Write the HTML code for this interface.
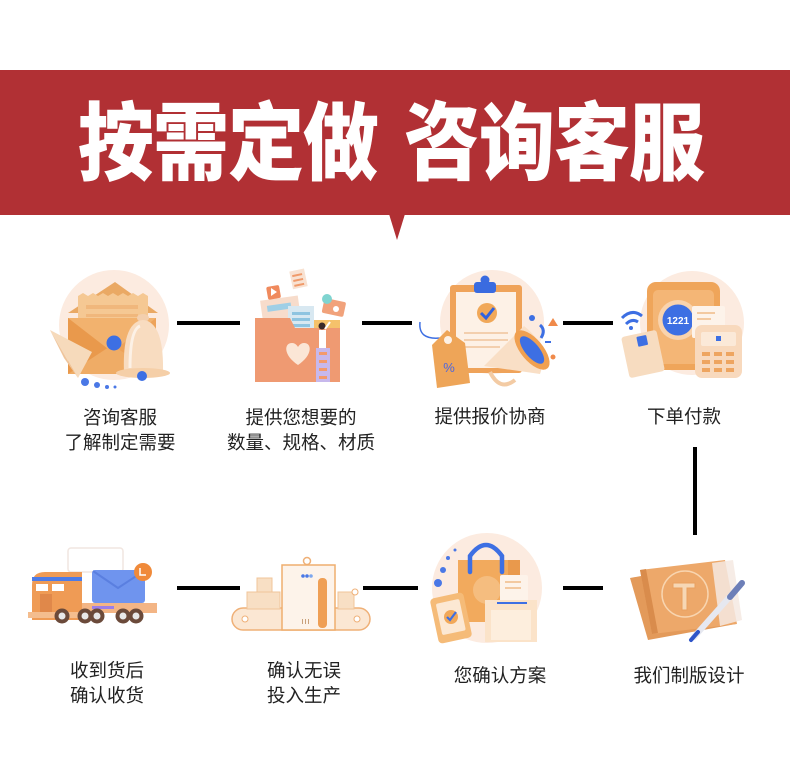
<!DOCTYPE html>
<html><head><meta charset="utf-8">
<style>
html,body{margin:0;padding:0;background:#fff;}
body{width:790px;height:767px;position:relative;overflow:hidden;font-family:"Liberation Sans","Noto Sans CJK SC",sans-serif;}
svg{position:absolute;left:0;top:0;}
.t{position:absolute;color:#fff;font-family:"Noto Sans CJK SC","WenQuanYi Zen Hei",sans-serif;font-weight:900;font-size:76px;line-height:76px;letter-spacing:-1px;white-space:nowrap;transform:scaleY(1.12);transform-origin:50% 55%;}
.l{position:absolute;width:200px;text-align:center;color:#222;font-family:"Liberation Sans","Noto Sans CJK SC",sans-serif;font-size:18.5px;line-height:25px;white-space:nowrap;}
</style></head><body>
<svg width="790" height="767" viewBox="0 0 790 767">
  <!-- banner -->
  <rect x="0" y="70" width="790" height="145" fill="#b13034"/>
  <polygon points="389,214 405,214 397,240" fill="#b13034"/>

  <!-- connectors -->
  <g stroke="#000" stroke-width="4">
    <line x1="177" y1="323" x2="240" y2="323"/>
    <line x1="362" y1="323" x2="412" y2="323"/>
    <line x1="563" y1="323" x2="613" y2="323"/>
    <line x1="695" y1="447" x2="695" y2="535"/>
    <line x1="177" y1="588" x2="240" y2="588"/>
    <line x1="363" y1="588" x2="418" y2="588"/>
    <line x1="563" y1="588" x2="603" y2="588"/>
  </g>

  <!-- Icon 1: envelope + bell -->
  <g>
    <circle cx="114" cy="325" r="55" fill="#fcebe0"/>
    <polygon points="68,313 115,282 158,313" fill="#eaa964"/>
    <path d="M78,296 l5,-3 5,3 5,-3 5,3 5,-3 5,3 5,-3 5,3 5,-3 5,3 5,-3 5,3 5,-3 5,3 V345 H78Z" fill="#f5c893"/>
    <rect x="86" y="305" width="52" height="4" fill="#f0b77c"/>
    <rect x="86" y="314" width="52" height="3" fill="#f0b77c"/>
    <rect x="68" y="318" width="88" height="56" fill="#f2b26e"/>
    <polygon points="68,318 112,352 68,374" fill="#e9994c"/>
    <polygon points="156,318 112,352 156,374" fill="#eda35a"/>
    <polygon points="68,374 112,345 156,374" fill="#efac66"/>
    <polygon points="50,330 92,352 78,378" fill="#f6dabb"/>
    <polygon points="50,330 78,378 64,358" fill="#efc59c"/>
    <ellipse cx="143" cy="318" rx="6" ry="4" fill="#f3cfae"/>
    <path d="M124,372 Q122,322 143,320 Q164,322 163,372 Z" fill="#f8dcc0"/>
    <path d="M130,368 Q130,330 140,326" stroke="#fff" stroke-width="3" fill="none" opacity="0.6"/>
    <ellipse cx="143" cy="373" rx="27" ry="5" fill="#f5cfa8"/>
    <circle cx="142" cy="376" r="5" fill="#3d6fe3"/>
    <circle cx="114" cy="343" r="7.5" fill="#3d6fe3"/>
    <circle cx="85" cy="382" r="4" fill="#4a78e6"/>
    <circle cx="97" cy="385" r="3" fill="#4a78e6"/>
    <circle cx="107" cy="387" r="2" fill="#4a78e6"/>
    <circle cx="115" cy="387" r="1.5" fill="#4a78e6"/>
  </g>

  <!-- Icon 2: folder -->
  <g>
    <rect x="300" y="320" width="40" height="14" fill="#f5c26b"/>
    <rect x="262" y="298" width="38" height="30" fill="#f7dccb" transform="rotate(-8 281 313)"/>
    <rect x="268" y="304" width="24" height="6" fill="#9fcfe6" transform="rotate(-8 281 313)"/>
    <rect x="288" y="306" width="26" height="30" fill="#d8e8f1"/>
    <rect x="292" y="312" width="18" height="3" fill="#8fc4e0"/>
    <rect x="292" y="318" width="18" height="3" fill="#8fc4e0"/>
    <rect x="292" y="324" width="18" height="3" fill="#8fc4e0"/>
    <rect x="267" y="286" width="13" height="13" rx="2" fill="#f08a5d" transform="rotate(-10 273 292)"/>
    <polygon points="271,288 277,292 271,296" fill="#fff"/>
    <rect x="291" y="270" width="15" height="18" fill="#f8e2d2" transform="rotate(-12 298 279)"/>
    <rect x="293" y="274" width="10" height="2" fill="#f09a6a" transform="rotate(-12 298 279)"/>
    <rect x="293" y="279" width="10" height="2" fill="#f09a6a" transform="rotate(-12 298 279)"/>
    <rect x="293" y="284" width="10" height="2" fill="#f09a6a" transform="rotate(-12 298 279)"/>
    <rect x="323" y="300" width="22" height="15" rx="2" fill="#f1a27b" transform="rotate(12 334 307)"/>
    <circle cx="336" cy="309" r="3" fill="#fff"/>
    <circle cx="327" cy="299" r="5" fill="#7fd4d0"/>
    <path d="M255,318 H290 L295,328 H340 V382 H255 Z" fill="#ef9a72"/>
    <path d="M298,365 C283,355 284,343 292,343 C296,343 298,347 298,347 C298,347 300,343 304,343 C312,343 313,355 298,365 Z" fill="#fbe6d6"/>
    <rect x="316" y="348" width="14" height="34" fill="#c7b8ec"/>
    <rect x="319" y="352" width="8" height="3" fill="#f39a6c"/>
    <rect x="319" y="360" width="8" height="3" fill="#f39a6c"/>
    <rect x="319" y="368" width="8" height="3" fill="#f39a6c"/>
    <rect x="319" y="376" width="8" height="3" fill="#f39a6c"/>
    <rect x="319" y="330" width="7" height="18" fill="#fff"/>
    <circle cx="322" cy="326" r="3.5" fill="#3a2a2a"/>
    <line x1="325" y1="329" x2="330" y2="322" stroke="#fff" stroke-width="2"/>
  </g>

  <!-- Icon 3: clipboard + tag + megaphone -->
  <g>
    <circle cx="492" cy="322" r="52" fill="#fcebe0"/>
    <rect x="450" y="285" width="72" height="88" rx="3" fill="#efa35a"/>
    <rect x="456" y="292" width="60" height="76" fill="#fdf1e6"/>
    <circle cx="485" cy="280" r="4.5" fill="#3a6be0"/>
    <rect x="474" y="282" width="22" height="11" rx="3" fill="#3a6be0"/>
    <circle cx="487" cy="313" r="10" fill="#f1a858"/>
    <path d="M481,313 L486,318 L494,308" stroke="#2f62e0" stroke-width="3" fill="none"/>
    <line x1="464" y1="333" x2="508" y2="333" stroke="#f3cfae" stroke-width="2"/>
    <line x1="464" y1="340" x2="508" y2="340" stroke="#f3cfae" stroke-width="2"/>
    <line x1="464" y1="347" x2="500" y2="347" stroke="#f3cfae" stroke-width="2"/>
    <path d="M420,322 Q418,340 440,338 Q450,336 445,345" stroke="#3d6fe3" stroke-width="1.5" fill="none"/>
    <polygon points="432,345 447,330 465,343 470,383 437,388" fill="#eea558"/>
    <circle cx="448" cy="340" r="4" fill="#fdf1e6"/>
    <text x="449" y="372" font-family="Liberation Sans,sans-serif" font-size="13" fill="#4a66e0" text-anchor="middle">%</text>
    <path d="M484,366 L524,326 Q550,346 540,374 Z" fill="#f9dfc6"/>
    <ellipse cx="532" cy="350" rx="11" ry="24" transform="rotate(-40 532 350)" fill="#f0a050"/>
    <ellipse cx="532" cy="350" rx="7" ry="17" transform="rotate(-40 532 350)" fill="#3d6fe3"/>
    <path d="M490,372 Q500,392 515,380" stroke="#f3cba4" stroke-width="4" fill="none"/>
    <circle cx="532" cy="318" r="3" fill="#3d6fe3"/>
    <path d="M540,325 Q546,330 541,338" stroke="#3d6fe3" stroke-width="3" fill="none"/>
    <polygon points="553,318 558,326 548,326" fill="#f08a4a"/>
    <circle cx="553" cy="357" r="2.5" fill="#f08a4a"/>
    <rect x="545" y="341" width="6" height="2" fill="#3d6fe3"/>
  </g>

  <!-- Icon 4: payment -->
  <g>
    <circle cx="692" cy="323" r="52" fill="#fcebe0"/>
    <rect x="647" y="282" width="73" height="88" rx="9" fill="#efa55a"/>
    <rect x="653" y="290" width="61" height="74" rx="5" fill="#f4b676"/>
    <circle cx="678" cy="320" r="20" fill="#f9d3ad"/>
    <circle cx="678" cy="320" r="15.5" fill="#3d6fe3"/>
    <text x="678" y="324" font-family="Liberation Sans,sans-serif" font-weight="bold" font-size="10" fill="#fff" text-anchor="middle">1221</text>
    <rect x="692" y="306" width="33" height="32" rx="2" fill="#fdf3ea"/>
    <rect x="697" y="312" width="18" height="2" fill="#f3c9a0"/>
    <rect x="697" y="318" width="14" height="2" fill="#f3c9a0"/>
    <rect x="695" y="325" width="47" height="53" rx="7" fill="#f8d9bd"/>
    <rect x="701" y="332" width="35" height="14" rx="2" fill="#fbe9d8"/>
    <rect x="716" y="336" width="5" height="5" fill="#3d6fe3"/>
    <g fill="#eea560">
      <rect x="702" y="352" width="8" height="4"/><rect x="714" y="352" width="8" height="4"/><rect x="726" y="352" width="8" height="4"/>
      <rect x="702" y="360" width="8" height="4"/><rect x="714" y="360" width="8" height="4"/><rect x="726" y="360" width="8" height="4"/>
      <rect x="702" y="368" width="8" height="4"/><rect x="714" y="368" width="8" height="4"/><rect x="726" y="368" width="8" height="4"/>
    </g>
    <rect x="625" y="333" width="36" height="42" rx="3" fill="#f7dcc0" transform="rotate(-12 643 354)"/>
    <rect x="640" y="336" width="10" height="10" rx="1" fill="#3d6fe3" transform="rotate(-12 643 354)"/>
    <path d="M622,318 Q632,308 642,316" stroke="#3d6fe3" stroke-width="3" fill="none"/>
    <path d="M626,324 Q632,318 638,322" stroke="#3d6fe3" stroke-width="3" fill="none"/>
    <circle cx="631" cy="328" r="2" fill="#3d6fe3"/>
  </g>

  <!-- Icon 5: truck -->
  <g>
    <rect x="68" y="548" width="55" height="24" rx="3" fill="none" stroke="#f1e6e0" stroke-width="1.5"/>
    <rect x="80" y="603" width="77" height="10" fill="#f3b585"/>
    <rect x="92" y="606" width="22" height="3" fill="#9c7ee8"/>
    <rect x="92" y="570" width="53" height="33" rx="3" fill="#6f94ee"/>
    <path d="M93,571 L118,588 L144,571" stroke="#5a7fe0" stroke-width="2" fill="none"/>
    <circle cx="143" cy="572" r="9" fill="#f08a3a"/>
    <path d="M140,568 L140,575 L146,575" stroke="#fff" stroke-width="1.5" fill="none"/>
    <path d="M32,620 V585 Q32,572 45,572 H82 V620 Z" fill="#ef9b55"/>
    <rect x="32" y="577" width="50" height="4" fill="#4d7be6"/>
    <rect x="36" y="584" width="12" height="7" fill="#fff"/>
    <rect x="52" y="584" width="12" height="7" fill="#fff"/>
    <rect x="40" y="594" width="12" height="20" fill="#e0884a"/>
    <rect x="28" y="612" width="56" height="6" fill="#f4bd8e"/>
    <g fill="#6b4a3a">
      <circle cx="62" cy="616" r="7.5"/><circle cx="85" cy="616" r="7.5"/><circle cx="97" cy="616" r="7.5"/>
      <circle cx="123" cy="616" r="7.5"/><circle cx="136" cy="616" r="7.5"/>
    </g>
    <g fill="#e8e8e8">
      <circle cx="62" cy="616" r="3.5"/><circle cx="85" cy="616" r="3.5"/><circle cx="97" cy="616" r="3.5"/>
      <circle cx="123" cy="616" r="3.5"/><circle cx="136" cy="616" r="3.5"/>
    </g>
  </g>

  <!-- Icon 6: conveyor -->
  <g>
    <rect x="232" y="608" width="138" height="22" rx="11" fill="#fbe7d3" stroke="#efb077" stroke-width="1.5"/>
    <circle cx="245" cy="619" r="3" fill="#fff" stroke="#efb077"/>
    <circle cx="357" cy="619" r="3" fill="#fff" stroke="#efb077"/>
    <rect x="247" y="592" width="33" height="17" fill="#f8dfc4" stroke="#f0c49a"/>
    <rect x="257" y="578" width="15" height="14" fill="#f8dfc4" stroke="#f0c49a"/>
    <rect x="338" y="592" width="16" height="17" fill="#f8dfc4" stroke="#f0c49a"/>
    <circle cx="355" cy="592" r="3" fill="#fff" stroke="#efb077"/>
    <circle cx="307" cy="561" r="3.5" fill="none" stroke="#efb077" stroke-width="1.5"/>
    <rect x="282" y="565" width="53" height="65" fill="#fdf3ea" stroke="#efae6e" stroke-width="1.5"/>
    <rect x="318" y="578" width="9" height="50" rx="4" fill="#ef9f55"/>
    <circle cx="303" cy="576" r="1.8" fill="#4a78e6"/>
    <circle cx="307" cy="576" r="1.8" fill="#4a78e6"/>
    <circle cx="311" cy="576" r="1.8" fill="#7da7ee"/>
    <rect x="302" y="619" width="1" height="5" fill="#c9a07a"/>
    <rect x="305" y="619" width="1" height="5" fill="#c9a07a"/>
    <rect x="308" y="619" width="1" height="5" fill="#c9a07a"/>
  </g>

  <!-- Icon 7: shopping bag -->
  <g>
    <circle cx="487" cy="588" r="55" fill="#fcebe0"/>
    <rect x="458" y="560" width="62" height="62" fill="#f2aa5d"/>
    <rect x="508" y="560" width="12" height="62" fill="#e9994c"/>
    <circle cx="487" cy="590" r="14" fill="#f5bd7f"/>
    <path d="M470,572 V556 Q486,534 502,556 V572" stroke="#3d6fe3" stroke-width="4.5" fill="none" stroke-linecap="round"/>
    <rect x="500" y="575" width="28" height="27" rx="2" fill="#fdf3ea"/>
    <rect x="505" y="581" width="16" height="2" fill="#f3c9a0"/>
    <rect x="505" y="587" width="16" height="2" fill="#f3c9a0"/>
    <rect x="485" y="600" width="52" height="42" fill="#fbe3c9"/>
    <rect x="491" y="610" width="40" height="30" fill="#fdeedd"/>
    <line x1="497" y1="603" x2="527" y2="603" stroke="#3d6fe3" stroke-width="2"/>
    <rect x="434" y="595" width="34" height="46" rx="4" fill="#f5bb78" transform="rotate(-12 451 618)"/>
    <rect x="439" y="601" width="24" height="32" rx="2" fill="#fce8d3" transform="rotate(-12 451 618)"/>
    <circle cx="451" cy="617" r="7" fill="#f2a858"/>
    <path d="M447,617 L450,620 L456,612" stroke="#3d6fe3" stroke-width="2.2" fill="none"/>
    <circle cx="438" cy="583" r="4" fill="#4a78e6"/>
    <circle cx="443" cy="570" r="3" fill="#4a78e6"/>
    <circle cx="448" cy="558" r="2" fill="#4a78e6"/>
    <circle cx="455" cy="550" r="1.5" fill="#4a78e6"/>
  </g>

  <!-- Icon 8: blueprint -->
  <g>
    <polygon points="630,578 718,562 736,624 648,640" fill="#e39a5a"/>
    <polygon points="640,570 725,560 737,624 652,634" fill="#eda86a"/>
    <polygon points="640,570 652,634 658,633 646,569" fill="#d98c4c"/>
    <circle cx="685" cy="594" r="23" fill="none" stroke="#f8d5b0" stroke-width="1.5"/>
    <path d="M673,583 H695 V588 H687 V610 H682 V588 H673 Z" fill="#f6d7b5" stroke="#e9a060"/>
    <polygon points="712,563 733,560 742,620 720,626" fill="#f4e9e2" opacity="0.85"/>
    <line x1="742" y1="583" x2="694" y2="637" stroke="#e6e8f0" stroke-width="6" stroke-linecap="round"/>
    <line x1="742" y1="583" x2="730" y2="597" stroke="#6d7fb8" stroke-width="6" stroke-linecap="round"/>
    <line x1="698" y1="632" x2="691" y2="640" stroke="#2f55c8" stroke-width="4" stroke-linecap="round"/>
  </g>
</svg>

<div class="t" style="left:78px;top:99px;">按需定做</div>
<div class="t" style="left:404px;top:99px;">咨询客服</div>

<div class="l" style="left:20px;top:405px;">咨询客服<br>了解制定需要</div>
<div class="l" style="left:201px;top:405px;">提供您想要的<br>数量、规格、材质</div>
<div class="l" style="left:390px;top:404px;">提供报价协商</div>
<div class="l" style="left:584px;top:404px;">下单付款</div>

<div class="l" style="left:7px;top:658px;">收到货后<br>确认收货</div>
<div class="l" style="left:204px;top:658px;">确认无误<br>投入生产</div>
<div class="l" style="left:400px;top:663px;">您确认方案</div>
<div class="l" style="left:589px;top:663px;">我们制版设计</div>
</body></html>
